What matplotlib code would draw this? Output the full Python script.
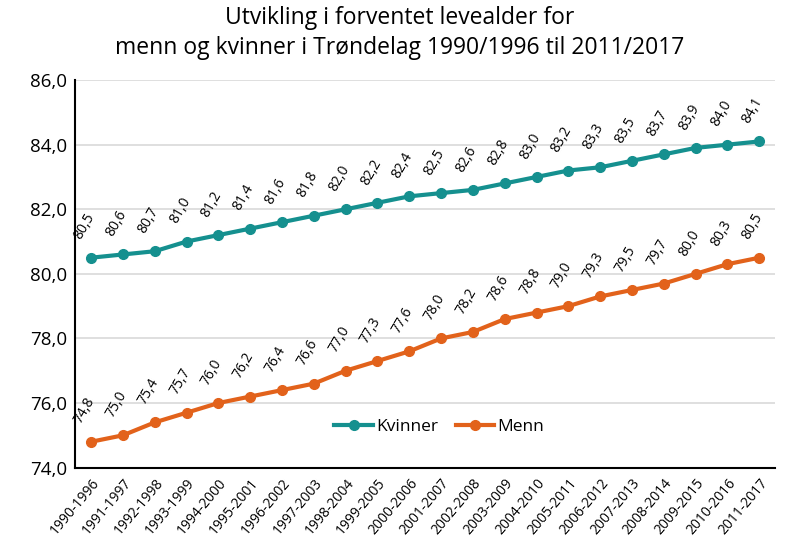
import matplotlib
matplotlib.use('Agg')
import matplotlib.pyplot as plt

plt.rcParams['font.family'] = ['Open Sans', 'DejaVu Sans']

periods = ['1990-1996', '1991-1997', '1992-1998', '1993-1999', '1994-2000', '1995-2001',
           '1996-2002', '1997-2003', '1998-2004', '1999-2005', '2000-2006', '2001-2007',
           '2002-2008', '2003-2009', '2004-2010', '2005-2011', '2006-2012', '2007-2013',
           '2008-2014', '2009-2015', '2010-2016', '2011-2017']
kvinner = [80.5, 80.6, 80.7, 81.0, 81.2, 81.4, 81.6, 81.8, 82.0, 82.2, 82.4, 82.5,
           82.6, 82.8, 83.0, 83.2, 83.3, 83.5, 83.7, 83.9, 84.0, 84.1]
menn = [74.8, 75.0, 75.4, 75.7, 76.0, 76.2, 76.4, 76.6, 77.0, 77.3, 77.6, 78.0,
        78.2, 78.6, 78.8, 79.0, 79.3, 79.5, 79.7, 80.0, 80.3, 80.5]
yticks = [74, 76, 78, 80, 82, 84, 86]

teal = '#15908F'
orange = '#E2621B'

fig = plt.figure(figsize=(8, 5.6), dpi=100)
ax = fig.add_axes([0.094, 0.165, 0.875, 0.692])

x = list(range(len(periods)))
ax.plot(x, kvinner, color=teal, lw=3, marker='o', ms=7, label='Kvinner')
ax.plot(x, menn, color=orange, lw=3, marker='o', ms=7, label='Menn')

for series in (kvinner, menn):
    for xi, v in zip(x, series):
        ax.annotate(f'{v:.1f}'.replace('.', ','), (xi, v), xytext=(-5, 11),
                    textcoords='offset points', rotation=60, ha='left', va='bottom',
                    fontsize=10, rotation_mode='anchor')

ax.set_xlim(-0.5, len(periods) - 0.5)
ax.set_ylim(74, 86)
ax.set_yticks(yticks)
ax.set_yticklabels([f'{t:.1f}'.replace('.', ',') for t in yticks], fontsize=13.5)
ax.set_xticks(x)
ax.set_xticklabels(periods, rotation=50, ha='right', rotation_mode='anchor', fontsize=10)
ax.tick_params(axis='both', length=0, pad=6)

ax.grid(axis='y', color='#D9D9D9', lw=1.2)
ax.set_axisbelow(True)
for s in ['top', 'right']:
    ax.spines[s].set_visible(False)
ax.spines['left'].set_linewidth(1.5)
ax.spines['bottom'].set_linewidth(1.5)

ax.legend(loc='center', bbox_to_anchor=(0.52, 0.105), ncol=2, frameon=False,
          fontsize=12.5, handlelength=2.2, columnspacing=1.0, handletextpad=0.2)

fig.suptitle('Utvikling i forventet levealder for\nmenn og kvinner i Trøndelag 1990/1996 til 2011/2017',
             fontsize=16.5, y=0.99, linespacing=1.35)

fig.savefig('out.png', dpi=100, facecolor='white')
